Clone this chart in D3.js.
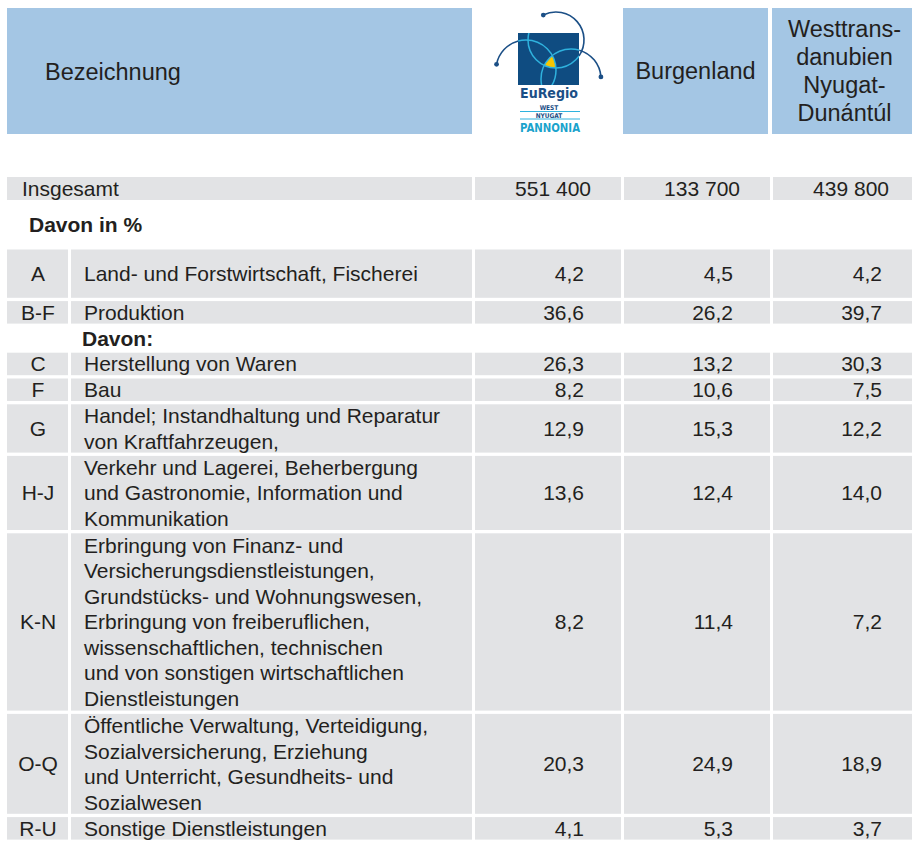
<!DOCTYPE html>
<html>
<head>
<meta charset="utf-8">
<script src="https://cdn.jsdelivr.net/npm/d3@7"></script>
<style>
body { margin: 0; background: #fff; }
text { font-family: "Liberation Sans", Arial, sans-serif; fill: #231f20; }
</style>
</head>
<body>
<script>
"use strict";

// columns of the table
let regions = ["EuRegio", "Burgenland", "Westtransdanubien"];
let headerLines = [[], ["Burgenland"], ["Westtrans-", "danubien", "Nyugat-", "Dunántúl"]];

let totals = [551400, 133700, 439800];

let codes = ["A", "B-F", "C", "F", "G", "H-J", "K-N", "O-Q", "R-U"];
let labels = [
  ["Land- und Forstwirtschaft, Fischerei"],
  ["Produktion"],
  ["Herstellung von Waren"],
  ["Bau"],
  ["Handel; Instandhaltung und Reparatur", "von Kraftfahrzeugen,"],
  ["Verkehr und Lagerei, Beherbergung", "und Gastronomie, Information und", "Kommunikation"],
  ["Erbringung von Finanz- und", "Versicherungsdienstleistungen,", "Grundstücks- und Wohnungswesen,",
   "Erbringung von freiberuflichen,", "wissenschaftlichen, technischen",
   "und von sonstigen wirtschaftlichen", "Dienstleistungen"],
  ["Öffentliche Verwaltung, Verteidigung,", "Sozialversicherung, Erziehung",
   "und Unterricht, Gesundheits- und", "Sozialwesen"],
  ["Sonstige Dienstleistungen"]
];
let euregio = [4.2, 36.6, 26.3, 8.2, 12.9, 13.6, 8.2, 20.3, 4.1];
let burgenland = [4.5, 26.2, 13.2, 10.6, 15.3, 12.4, 11.4, 24.9, 5.3];
let westtrans = [4.2, 39.7, 30.3, 7.5, 12.2, 14.0, 7.2, 18.9, 3.7];

// layout
let rowUnits = [2, 1, 1, 1, 2, 3, 7, 4, 1];
let davonAfter = 1; // "Davon:" sits after B-F
let headBlue = "#a4c6e4";
let cellGray = "#e2e3e5";
let fontSize = 21;
let lineH = 25.5;

let locale = d3.formatLocale({decimal: ",", thousands: " ", grouping: [3], currency: ["", ""]});
let fmtPct = locale.format(".1f");
let fmtTotal = locale.format(",.0f");

let svg = d3.select("body").append("svg")
  .attr("width", 912)
  .attr("height", 841);

let x = d3.scaleBand()
  .domain(regions)
  .range([475, 919])
  .paddingInner(3 / 149);

let y = d3.scaleLinear()
  .domain([0, 1])
  .range([249.5, 249.5 + 25.8]);

let unitGap = 3.3;

// ---- header ----
svg.append("rect")
  .attr("x", 7).attr("y", 8)
  .attr("width", 465).attr("height", 126)
  .attr("fill", headBlue);

svg.append("text")
  .attr("x", 45).attr("y", 80)
  .style("font-size", "23.5px")
  .text("Bezeichnung");

let head = svg.selectAll(".head")
  .data(regions.slice(1))
  .join("g")
  .attr("class", "head");

head.append("rect")
  .attr("x", d => x(d) - 1)
  .attr("y", 8)
  .attr("width", x.bandwidth() - 1)
  .attr("height", 126)
  .attr("fill", headBlue);

head.each(function(d) {
  let lines = headerLines[regions.indexOf(d)];
  let cx = x(d) - 1 + (x.bandwidth() - 1) / 2;
  let first = 71 - (lines.length - 1) / 2 * 28 + 8.4;
  d3.select(this).selectAll("text")
    .data(lines)
    .join("text")
    .attr("x", cx)
    .attr("y", (l, i) => first + i * 28)
    .attr("text-anchor", "middle")
    .style("font-size", "23.5px")
    .text(l => l);
});

// ---- logo ----
let logo = svg.append("g").attr("transform", "translate(518,33)");
let navy = "#0f4c81";
let arcBlue = "#1b4f86";
let teal = "#2fb2de";
let rad = Math.PI / 180;

// a0/a1 = part of each circle drawn outside the square, dot at "dot" end
let circles = [
  {cx: 38, cy: 7, r: 28, a0: -117, a1: 35, dot: -117},
  {cx: 8, cy: 37, r: 30, a0: -169, a1: -105, dot: -169},
  {cx: 53, cy: 46, r: 30, a0: -74, a1: -4, dot: -4}
];

let defs = svg.append("defs");
defs.append("clipPath").attr("id", "sq")
  .append("rect").attr("width", 61).attr("height", 52);
circles.forEach((c, i) => {
  defs.append("clipPath").attr("id", "c" + i)
    .append("circle").attr("cx", c.cx).attr("cy", c.cy).attr("r", c.r);
});

logo.append("rect")
  .attr("width", 61).attr("height", 52)
  .attr("fill", navy);

// yellow lens = intersection of the three circles
logo.append("g").attr("clip-path", "url(#c1)")
  .append("g").attr("clip-path", "url(#c2)")
  .append("circle")
  .attr("cx", circles[0].cx).attr("cy", circles[0].cy).attr("r", circles[0].r)
  .attr("fill", "#f7c600");

logo.append("g").attr("clip-path", "url(#sq)")
  .selectAll("circle")
  .data(circles)
  .join("circle")
  .attr("cx", c => c.cx).attr("cy", c => c.cy).attr("r", c => c.r)
  .attr("fill", "none")
  .attr("stroke", teal)
  .attr("stroke-width", 1.5);

logo.selectAll(".outer")
  .data(circles)
  .join("path")
  .attr("class", "outer")
  .attr("d", c => {
    let p = d3.path();
    p.arc(c.cx, c.cy, c.r, c.a0 * rad, c.a1 * rad);
    return p.toString();
  })
  .attr("fill", "none")
  .attr("stroke", arcBlue)
  .attr("stroke-width", 1.6);

logo.selectAll(".dot")
  .data(circles)
  .join("circle")
  .attr("class", "dot")
  .attr("cx", c => c.cx + c.r * Math.cos(c.dot * rad))
  .attr("cy", c => c.cy + c.r * Math.sin(c.dot * rad))
  .attr("r", 2.4)
  .attr("fill", arcBlue);

logo.append("text")
  .attr("x", 2).attr("y", 65)
  .attr("textLength", 58).attr("lengthAdjust", "spacingAndGlyphs")
  .style("font-family", "'DejaVu Sans', sans-serif")
  .style("font-weight", "bold")
  .style("font-size", "14px")
  .style("fill", arcBlue)
  .text("EuRegio");

[["WEST", 76.5, 78.5], ["NYUGAT", 84.5, 86]].forEach(([t, ty, ly]) => {
  logo.append("text")
    .attr("x", 31).attr("y", ty)
    .attr("text-anchor", "middle")
    .style("font-family", "'DejaVu Sans Condensed', sans-serif")
    .style("font-weight", "bold")
    .style("font-size", "6.5px")
    .style("fill", arcBlue)
    .text(t);
  logo.append("line")
    .attr("x1", 2).attr("x2", 62)
    .attr("y1", ly).attr("y2", ly)
    .attr("stroke", teal).attr("stroke-width", 1);
});

logo.append("text")
  .attr("x", 2).attr("y", 98.5)
  .attr("textLength", 60).attr("lengthAdjust", "spacingAndGlyphs")
  .style("font-family", "'DejaVu Sans Condensed', sans-serif")
  .style("font-weight", "bold")
  .style("font-size", "13px")
  .style("fill", "#1aa3cc")
  .text("PANNONIA");

// ---- total row ----
let totalTop = 177, totalH = 23;
svg.append("rect")
  .attr("x", 7).attr("y", totalTop)
  .attr("width", 465).attr("height", totalH)
  .attr("fill", cellGray);
svg.append("text")
  .attr("x", 22).attr("y", totalTop + totalH / 2 + 7.5)
  .style("font-size", fontSize + "px")
  .text("Insgesamt");

let totalCells = svg.selectAll(".total")
  .data(regions.map((r, i) => ({region: r, value: totals[i]})))
  .join("g")
  .attr("class", "total");
totalCells.append("rect")
  .attr("x", d => x(d.region))
  .attr("y", totalTop)
  .attr("width", x.bandwidth())
  .attr("height", totalH)
  .attr("fill", cellGray);
totalCells.append("text")
  .attr("x", d => x(d.region) + x.bandwidth() - 30)
  .attr("y", totalTop + totalH / 2 + 7.5)
  .attr("text-anchor", "end")
  .style("font-size", fontSize + "px")
  .text(d => fmtTotal(d.value));

svg.append("text")
  .attr("x", 29).attr("y", 232)
  .style("font-size", fontSize + "px")
  .style("font-weight", "bold")
  .text("Davon in %");

// ---- body rows ----
let rows = [];
let u = 0;
let davonU = 0;
codes.forEach((c, i) => {
  rows.push({
    code: c,
    lines: labels[i],
    vals: [euregio[i], burgenland[i], westtrans[i]],
    u: u,
    n: rowUnits[i]
  });
  u += rowUnits[i];
  if (i === davonAfter) { davonU = u; u += 1; }
});

svg.append("text")
  .attr("x", 82).attr("y", y(davonU) + 19)
  .style("font-size", fontSize + "px")
  .style("font-weight", "bold")
  .text("Davon:");

let rowTop = d => y(d.u);
let rowH = d => y(d.u + d.n) - y(d.u) - unitGap;
let rowMid = d => rowTop(d) + rowH(d) / 2;

let row = svg.selectAll(".row")
  .data(rows)
  .join("g")
  .attr("class", "row");

row.append("rect")
  .attr("x", 7).attr("y", rowTop)
  .attr("width", 61).attr("height", rowH)
  .attr("fill", cellGray);

row.append("rect")
  .attr("x", 71).attr("y", rowTop)
  .attr("width", 401).attr("height", rowH)
  .attr("fill", cellGray);

row.append("text")
  .attr("x", 38)
  .attr("y", d => rowMid(d) + 7.5)
  .attr("text-anchor", "middle")
  .style("font-size", fontSize + "px")
  .text(d => d.code);

row.each(function(d) {
  let first = rowMid(d) - (d.lines.length - 1) / 2 * lineH + 7.5;
  d3.select(this).selectAll(".lbl")
    .data(d.lines)
    .join("text")
    .attr("class", "lbl")
    .attr("x", 84)
    .attr("y", (l, i) => first + i * lineH)
    .style("font-size", fontSize + "px")
    .text(l => l);

  let cells = d3.select(this).selectAll(".cell")
    .data(regions.map((r, i) => ({region: r, value: d.vals[i]})))
    .join("g")
    .attr("class", "cell");
  cells.append("rect")
    .attr("x", c => x(c.region))
    .attr("y", rowTop(d))
    .attr("width", x.bandwidth())
    .attr("height", rowH(d))
    .attr("fill", cellGray);
  cells.append("text")
    .attr("x", c => x(c.region) + x.bandwidth() - 37)
    .attr("y", rowMid(d) + 7.5)
    .attr("text-anchor", "end")
    .style("font-size", fontSize + "px")
    .text(c => fmtPct(c.value));
});
</script>
</body>
</html>
